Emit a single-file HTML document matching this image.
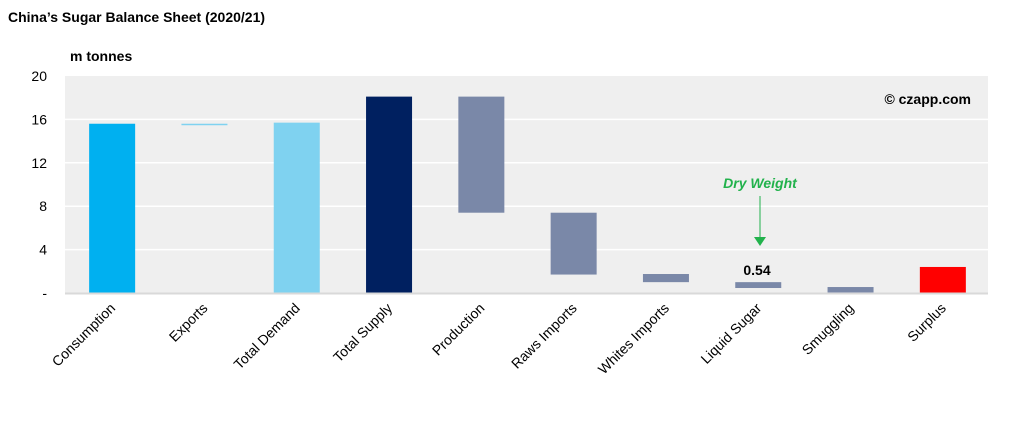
<!DOCTYPE html>
<html><head><meta charset="utf-8"><style>
body{margin:0;background:#fff;width:1024px;height:433px;overflow:hidden;font-family:"Liberation Sans",Arial,sans-serif}
</style></head><body>
<svg id="chart" width="1024" height="433">
<text x="8" y="22" font-size="14" font-weight="bold">China’s Sugar Balance Sheet (2020/21)</text>
<text x="70" y="61" font-size="14" font-weight="bold">m tonnes</text>
<rect x="65" y="76" width="923" height="217" fill="#efefef"/>
<g id="grid"></g><g id="bars"></g><g id="xl"></g>
<line x1="65" y1="293.5" x2="988" y2="293.5" stroke="#d9d9d9" stroke-width="2"/>
<text x="971" y="104" font-size="14" font-weight="bold" text-anchor="end">© czapp.com</text>
<text x="760" y="188" font-size="14" font-weight="bold" font-style="italic" fill="#22b24c" text-anchor="middle">Dry Weight</text>
<line x1="760" y1="196" x2="760" y2="237" stroke="#22b24c" stroke-width="1"/>
<polygon points="754,237 766,237 760,246" fill="#22b24c"/>
<text x="757" y="275" font-size="14" font-weight="bold" text-anchor="middle">0.54</text>
</svg>
<script>
const categories=["Consumption","Exports","Total Demand","Total Supply","Production","Raws Imports","Whites Imports","Liquid Sugar","Smuggling","Surplus"];
const barLow=[0,15.5,0,0,7.4,1.7,1.0,0.46,0.05,0];
const barHigh=[15.6,15.6,15.7,18.1,18.1,7.4,1.75,1.0,0.55,2.4];
const barColors=["#00b0f0","#7fd2f0","#7fd2f0","#002060","#7a88a8","#7a88a8","#7a88a8","#7a88a8","#7a88a8","#ff0000"];
const yTicks=[0,4,8,12,16,20];
const yTickLabels=["-","4","8","12","16","20"];
const NS="http://www.w3.org/2000/svg";
const x0=65,x1=988,yTop=76,yBot=293,yMax=20;
const band=(x1-x0)/categories.length;
const y=v=>yBot-(v/yMax)*(yBot-yTop);
const xc=i=>x0+band*(i+0.5)+1;
const g=document.getElementById('grid'),b=document.getElementById('bars'),xl=document.getElementById('xl');
yTicks.forEach((t,i)=>{
 if(t>0&&t<yMax){const l=document.createElementNS(NS,'line');
 l.setAttribute('x1',x0);l.setAttribute('x2',x1);l.setAttribute('y1',y(t));l.setAttribute('y2',y(t));
 l.setAttribute('stroke','#fff');l.setAttribute('stroke-width','1.5');
 
 g.appendChild(l);}
 const tx=document.createElementNS(NS,'text');
 tx.setAttribute('x',47);tx.setAttribute('y',y(t)+5);tx.setAttribute('font-size','14');tx.setAttribute('text-anchor','end');
 tx.textContent=yTickLabels[i];
 
 g.appendChild(tx);
});
categories.forEach((c,i)=>{
 const r=document.createElementNS(NS,'rect');
 const top=y(barHigh[i]),bot=y(barLow[i]);
 r.setAttribute('x',xc(i)-23);r.setAttribute('width',46);
 r.setAttribute('y',top);r.setAttribute('height',Math.max(1.5,bot-top));
 r.setAttribute('fill',barColors[i]);
 
 b.appendChild(r);
 const t=document.createElementNS(NS,'text');
 const lx=xc(i)+4,ly=309;
 t.setAttribute('x',lx);t.setAttribute('y',ly);t.setAttribute('font-size','14');t.setAttribute('text-anchor','end');
 t.setAttribute('transform','rotate(-45 '+lx+' '+ly+')');
 t.textContent=c;
 
 xl.appendChild(t);
});
</script>
</body></html>
